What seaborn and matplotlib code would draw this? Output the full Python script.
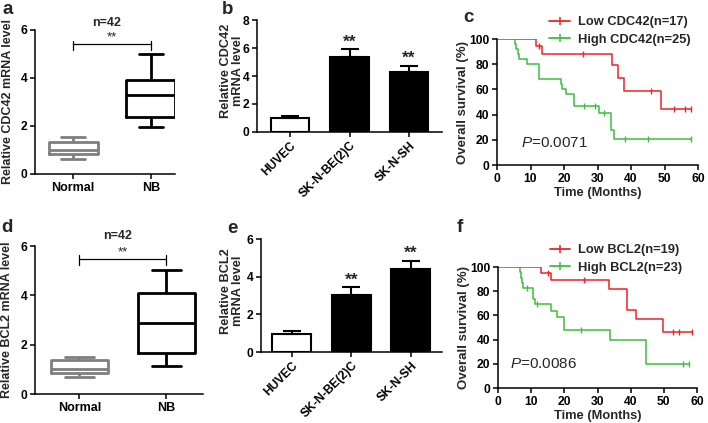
import numpy as np
import pandas as pd
import matplotlib
matplotlib.use('Agg')
import matplotlib.pyplot as plt
import seaborn as sns
from matplotlib.lines import Line2D

# box plots: min, q1, median, q3, max
groups = ['Normal', 'NB']
cdc42_normal = [0.61, 0.82, 1.00, 1.34, 1.55]
cdc42_nb = [1.94, 2.38, 3.28, 3.90, 5.00]
bcl2_normal = [0.67, 0.85, 1.01, 1.36, 1.52]
bcl2_nb = [1.14, 1.68, 2.86, 4.10, 5.04]

# bar charts (mean, sd)
cells = ['HUVEC', 'SK-N-BE(2)C', 'SK-N-SH']
cdc42_mean = [0.98, 5.35, 4.25]
cdc42_sd = [0.15, 0.55, 0.48]
bcl2_mean = [0.95, 3.03, 4.40]
bcl2_sd = [0.15, 0.40, 0.45]

# Kaplan-Meier steps (time, survival %) and censor times
c_low_t = [0, 11.5, 13.5, 34.2, 36.0, 37.9, 48.9, 58.0]
c_low_s = [100, 94.1, 87.8, 79.4, 69.3, 58.7, 44.2, 44.2]
c_low_cens = [12.5, 25.7, 46.0, 52.9, 56.0, 58.0]
c_high_t = [0, 5.5, 5.8, 6.2, 6.6, 8.9, 12.5, 19.2, 19.5, 20.5, 23.1, 30.3, 34.0, 35.0, 58.0]
c_high_s = [100, 96, 92, 88, 84, 80, 68, 64, 60, 56, 47, 41.5, 27.5, 21, 21]
c_high_cens = [26.0, 29.4, 32.0, 38.1, 45.0, 58.0]

f_low_t = [0, 12.9, 15.9, 33.5, 38.8, 41.6, 49.6, 58.4]
f_low_s = [100, 94.7, 89.2, 81.5, 64.6, 57.2, 46.0, 46.0]
f_low_cens = [15.1, 25.9, 52.7, 54.5, 58.4]
f_high_t = [0, 6.5, 6.8, 7.1, 7.5, 10.6, 11.2, 15.9, 17.9, 19.8, 33.7, 44.6, 57.5]
f_high_s = [100, 95.7, 91.3, 87.0, 82.6, 73.9, 69.6, 64.0, 58.6, 48.2, 40.0, 20.2, 20.2]
f_high_cens = [8.6, 11.9, 24.9, 55.7, 57.5]

RED = '#ec2327'
GREEN = '#3dbf3d'
GREY = '#7f7f7f'

sns.set_theme(style='ticks')
plt.rcParams['font.family'] = ['Liberation Sans', 'DejaVu Sans']
plt.rcParams['font.weight'] = 'bold'
plt.rcParams['axes.labelweight'] = 'bold'
plt.rcParams['mathtext.fontset'] = 'custom'
plt.rcParams['mathtext.it'] = 'Liberation Sans:italic:normal'
plt.rcParams['mathtext.rm'] = 'Liberation Sans:normal'
plt.rcParams['axes.edgecolor'] = 'black'
plt.rcParams['axes.linewidth'] = 1.1
plt.rcParams['xtick.color'] = 'black'
plt.rcParams['ytick.color'] = 'black'
plt.rcParams['xtick.major.width'] = 1.1
plt.rcParams['ytick.major.width'] = 1.1
plt.rcParams['xtick.major.size'] = 3.5
plt.rcParams['ytick.major.size'] = 3.5
plt.rcParams['xtick.major.pad'] = 2
plt.rcParams['ytick.major.pad'] = 2
plt.rcParams['xtick.labelsize'] = 8.7
plt.rcParams['ytick.labelsize'] = 8.7
plt.rcParams['axes.labelsize'] = 9

W, H = 708, 423
fig = plt.figure(figsize=(W / 100, H / 100), dpi=100)


def px_axes(left, top, right, bottom):
    return fig.add_axes([left / W, 1 - bottom / H, (right - left) / W, (bottom - top) / H])


def box_panel(ax, normal, nb, ylabel, width, xlim, bracket_y, ylab_x):
    df = pd.DataFrame({'group': ['Normal'] * 5 + ['NB'] * 5, 'value': normal + nb})
    sns.boxplot(data=df, x='group', y='value', hue='group', order=groups,
                palette={'Normal': GREY, 'NB': 'black'}, fill=False, whis=(0, 100),
                width=width, linewidth=2.0, legend=False, ax=ax)
    ax.set_ylim(0, 6)
    ax.set_yticks([0, 2, 4, 6])
    ax.set_xlim(*xlim)
    ax.set_xlabel('')
    ax.set_ylabel(ylabel, fontsize=9, va='center')
    ax.yaxis.set_label_coords(ylab_x, 0.5)
    ax.tick_params(axis='x', labelsize=9)
    sns.despine(ax=ax)
    # significance bracket
    ax.plot([0, 0, 1, 1], [bracket_y - 0.27, bracket_y, bracket_y, bracket_y - 0.27],
            color='black', lw=0.9, clip_on=False)
    ax.plot([0, 0], [bracket_y, bracket_y + 0.14], color='black', lw=0.9, clip_on=False)
    ax.plot([1, 1], [bracket_y, bracket_y + 0.14], color='black', lw=0.9, clip_on=False)
    ax.text(0.5, bracket_y, '**', ha='center', va='bottom', fontsize=9.5, fontweight='normal')


def bar_panel(ax, means, sds, ylabel, ymax, xlim, ylab_x, ylab_y):
    df = pd.DataFrame({'cell': cells, 'value': means})
    sns.barplot(data=df, x='cell', y='value', hue='cell', order=cells,
                palette={'HUVEC': 'white', 'SK-N-BE(2)C': 'black', 'SK-N-SH': 'black'},
                edgecolor='black', linewidth=1.5, width=0.655, errorbar=None,
                legend=False, ax=ax)
    ax.errorbar(range(len(cells)), means, yerr=[[0] * len(cells), sds], fmt='none',
                ecolor='black', elinewidth=1.5, capsize=6.5, capthick=1.5)
    for i in (1, 2):
        ax.annotate('**', (i, means[i] + sds[i]), xytext=(0, 0), textcoords='offset points',
                    ha='center', va='bottom', fontsize=12.5)
    ax.set_ylim(0, ymax)
    ax.set_yticks(range(0, ymax + 1, 2))
    ax.set_xlim(*xlim)
    ax.set_xlabel('')
    ax.set_ylabel(ylabel, fontsize=9.2, va='center', linespacing=1.0)
    ax.yaxis.set_label_coords(ylab_x, ylab_y)
    plt.setp(ax.get_xticklabels(), rotation=45, ha='right', rotation_mode='anchor')
    sns.despine(ax=ax)


def km_panel(ax, curves, labels, ptext, pxy, ylab_x, leg_anchor):
    handles = []
    for (t, s, cens), color, lab in zip(curves, [RED, GREEN], labels):
        sns.lineplot(x=t, y=s, drawstyle='steps-post', color=color, lw=1.1,
                     estimator=None, ax=ax)
        idx = np.searchsorted(t, cens, side='right') - 1
        ax.plot(cens, np.array(s)[idx], ls='none', marker='|', ms=5, mew=1.0, color=color)
        handles.append(Line2D([], [], color=color, lw=1.3, marker='|', ms=6, mew=1.1))
    ax.set_xlim(0, 60)
    ax.set_ylim(0, 100)
    ax.set_xticks(range(0, 61, 10))
    ax.set_yticks(range(0, 101, 20))
    ax.set_xlabel('Time (Months)', fontsize=9.3, labelpad=1.5)
    ax.set_ylabel('Overall survival (%)', fontsize=9.5, va='center')
    ax.yaxis.set_label_coords(ylab_x, 0.5)
    ax.text(pxy[0], pxy[1], ptext, fontsize=11, fontweight='normal', va='center')
    ax.legend(handles, labels, loc='upper left', bbox_to_anchor=leg_anchor, frameon=False,
              fontsize=9.3, handlelength=1.6, handletextpad=0.6, labelspacing=0.42,
              borderpad=0, borderaxespad=0)
    sns.despine(ax=ax)


ax_a = px_axes(35, 30, 175, 174)
box_panel(ax_a, cdc42_normal, cdc42_nb, 'Relative CDC42 mRNA level', 0.63, (-0.49, 1.31), 5.42, -0.193)
ax_a.text(0.514, 1.05, 'n=42', transform=ax_a.transAxes, ha='center', va='center', fontsize=9)

ax_d = px_axes(35, 246, 203, 394)
box_panel(ax_d, bcl2_normal, bcl2_nb, 'Relative BCL2 mRNA level', 0.66, (-0.51, 1.42), 5.48, -0.167)
ax_d.text(0.49, 1.07, 'n=42', transform=ax_d.transAxes, ha='center', va='center', fontsize=9)

ax_b = px_axes(257, 20, 442, 132)
bar_panel(ax_b, cdc42_mean, cdc42_sd, 'Relative CDC42\nmRNA level', 8, (-0.555, 2.555), -0.135, 0.55)

ax_e = px_axes(261, 239, 442, 352)
bar_panel(ax_e, bcl2_mean, bcl2_sd, 'Relative BCL2\nmRNA level', 6, (-0.516, 2.524), -0.16, 0.54)

ax_c = px_axes(497, 39, 698, 165)
km_panel(ax_c, [(c_low_t, c_low_s, c_low_cens), (c_high_t, c_high_s, c_high_cens)],
         ['Low CDC42(n=17)', 'High CDC42(n=25)'], r'$\mathit{P}$=0.0071', (7.3, 17.5),
         -0.169, (0.26, 1.18))

ax_f = px_axes(498, 267, 697, 388)
km_panel(ax_f, [(f_low_t, f_low_s, f_low_cens), (f_high_t, f_high_s, f_high_cens)],
         ['Low BCL2(n=19)', 'High BCL2(n=23)'], r'$\mathit{P}$=0.0086', (3.5, 20),
         -0.171, (0.26, 1.19))

# panel letters
for letter, (x, y) in zip('abcdef', [(8, 9), (228, 9), (468, 17), (7, 227), (232, 228), (460, 227)]):
    fig.text(x / W, 1 - y / H, letter, fontsize=13.5, fontweight='bold', ha='center', va='center')

fig.savefig('out.png', dpi=100)
